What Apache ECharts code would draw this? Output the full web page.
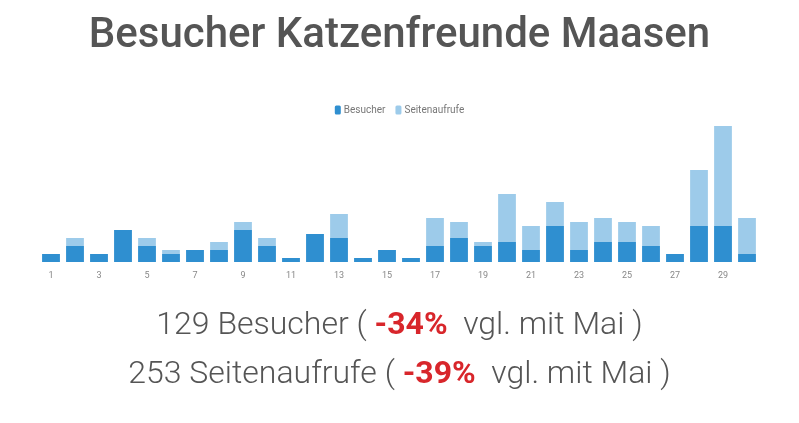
<!DOCTYPE html>
<html>
<head>
<meta charset="utf-8">
<script src="https://cdn.jsdelivr.net/npm/echarts@6/dist/echarts.min.js"></script>
<style>
  html, body { margin: 0; padding: 0; background: #fff; }
  #main { width: 799px; height: 423px; }
</style>
</head>
<body>
<div id="main"></div>
<script>
// days of June
var days = ['1', '2', '3', '4', '5', '6', '7', '8', '9', '10', '11', '12', '13', '14', '15',
            '16', '17', '18', '19', '20', '21', '22', '23', '24', '25', '26', '27', '28', '29', '30'];

var besucher = [2, 4, 2, 8, 4, 2, 3, 3, 8, 4, 1, 7, 6, 1, 3, 1, 4, 6, 4, 5, 3, 9, 3, 5, 5, 4, 2, 9, 9, 2];
var seitenaufrufe = [2, 6, 2, 8, 6, 3, 3, 5, 10, 6, 1, 7, 12, 1, 3, 1, 11, 10, 5, 17, 9, 15, 10, 11, 10, 9, 2, 23, 34, 11];

var totalBesucher = 129, changeBesucher = '-34%';
var totalSeiten = 253, changeSeiten = '-39%';

var myChart = echarts.init(document.getElementById('main'));

var summaryStyle = {
    fontFamily: 'Roboto', fontSize: 32, fontWeight: 300, color: '#555',
    rich: { r: { fontFamily: 'Roboto', fontSize: 32, fontWeight: 'bold', color: '#d8262b' } }
};

var option = {
    backgroundColor: '#fff',
    textStyle: { fontFamily: 'Roboto' },
    title: [
        {
            text: 'Besucher Katzenfreunde Maasen',
            left: 'center',
            top: 10,
            textStyle: { fontFamily: 'Roboto', fontSize: 42, fontWeight: 500, color: '#555' }
        },
        {
            text: totalBesucher + ' Besucher ( {r|' + changeBesucher + '}  vgl. mit Mai )',
            left: 'center',
            top: 305,
            textStyle: summaryStyle
        },
        {
            text: totalSeiten + ' Seitenaufrufe ( {r|' + changeSeiten + '}  vgl. mit Mai )',
            left: 'center',
            top: 354,
            textStyle: summaryStyle
        }
    ],
    legend: {
        top: 100,
        left: 'center',
        itemWidth: 6,
        itemHeight: 9,
        itemGap: 10,
        textStyle: { fontSize: 10, color: '#777', padding: [0, 0, 0, -2] },
        data: ['Besucher', 'Seitenaufrufe']
    },
    grid: { left: 39, right: 40, top: 126, bottom: 161 },
    xAxis: {
        type: 'category',
        data: days,
        axisLine: { show: false },
        axisTick: { show: false },
        axisLabel: { interval: 1, fontSize: 9, color: '#888', margin: 9 }
    },
    yAxis: {
        type: 'value',
        min: 0,
        max: 34,
        show: false,
        splitLine: { show: false }
    },
    series: [
        {
            name: 'Seitenaufrufe',
            type: 'bar',
            data: seitenaufrufe,
            barWidth: '74%',
            barGap: '-100%',
            itemStyle: { color: '#9dcbea' },
            z: 1
        },
        {
            name: 'Besucher',
            type: 'bar',
            data: besucher,
            barWidth: '74%',
            barGap: '-100%',
            itemStyle: { color: '#2f8fd0' },
            z: 2
        }
    ]
};

myChart.setOption(option);
</script>
</body>
</html>
